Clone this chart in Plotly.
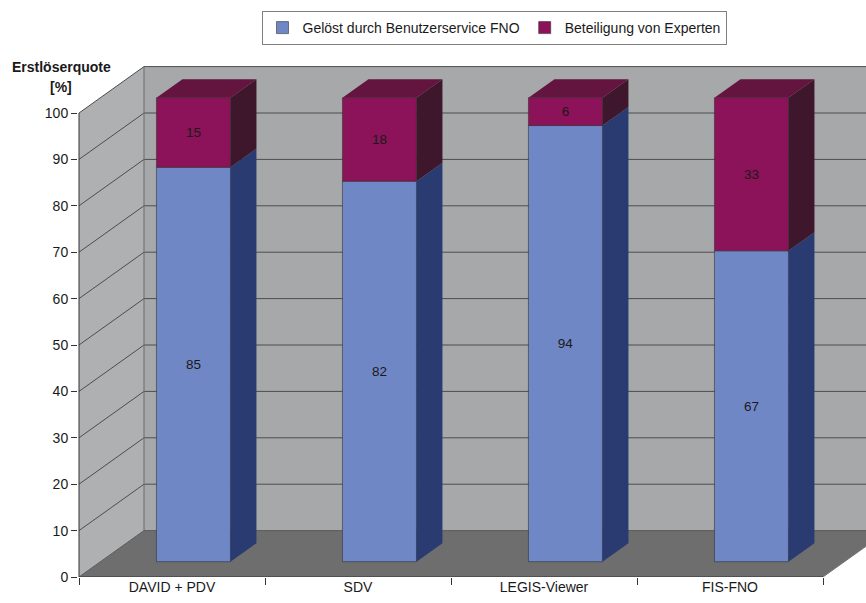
import plotly.graph_objects as go

# ---------------- data ----------------
categories = ["DAVID + PDV", "SDV", "LEGIS-Viewer", "FIS-FNO"]
solved = [85, 82, 94, 67]
experts = [15, 18, 6, 33]
series_names = ["Gelöst durch Benutzerservice FNO", "Beteiligung von Experten"]
y_ticks = list(range(0, 101, 10))
y_title_lines = ["Erstlöserquote", "[%]"]

# ---------------- geometry / style ----------------
W, H = 866, 603
L, R, T, B = 78, 0, 55, 26
CAT_PX = 186.0
PX_PER_UNIT = 4.64
plot_w = W - L - R
plot_h = H - T - B
x_lo = -0.5 - 1.0 / CAT_PX
x_hi = x_lo + plot_w / CAT_PX
y_lo = 0.0
y_hi = plot_h / PX_PER_UNIT

DX = 65.0 / CAT_PX   # depth vector (x units)
DY = 10.0            # depth vector (value units)
D0, D1 = 0.33, 0.73  # bar depth span
BAR_W = 74.0 / CAT_PX
N = len(categories)
X_FRONT_L = -0.5
X_FRONT_R = N - 0.5
WALL_TOP = max(y_ticks)

FONT = "Liberation Sans, Arial, sans-serif"
front_colors = ["#7087C6", "#8C1259"]
side_colors = ["#2A3B72", "#3E172C"]
top_colors = ["#5B74B6", "#63143F"]
GRID = "#4d4d4d"

fig = go.Figure()

# ---------------- bars (front faces) ----------------
segments = [solved, experts]
bases = [[0] * N, solved]
for k in range(2):
    fig.add_trace(go.Bar(
        x=categories,
        y=segments[k],
        base=[b + D0 * DY for b in bases[k]],
        width=BAR_W,
        offset=D0 * DX - BAR_W / 2,
        name=series_names[k],
        marker=dict(color=front_colors[k], line=dict(width=0.6, color="#333333")),
        text=[str(v) for v in segments[k]],
        textposition="inside",
        insidetextanchor="middle",
        constraintext="none",
        textangle=0,
        insidetextfont=dict(family=FONT, size=13.5, color="#1a1a1a"),
        hoverinfo="skip",
    ))

# ---------------- 3D side / top faces from data ----------------
depth_x = (D1 - D0) * DX
depth_y = (D1 - D0) * DY
for k in range(2):
    for i in range(N):
        b = bases[k][i] + D0 * DY
        t = b + segments[k][i]
        xr = i + D0 * DX + BAR_W / 2
        xl = i + D0 * DX - BAR_W / 2
        fig.add_trace(go.Scatter(
            x=[xr, xr + depth_x, xr + depth_x, xr, xr],
            y=[b, b + depth_y, t + depth_y, t, b],
            xaxis="x2", yaxis="y",
            mode="lines", fill="toself", fillcolor=side_colors[k],
            line=dict(width=0, color=side_colors[k]),
            showlegend=False, hoverinfo="skip",
        ))
        if k == 1:
            fig.add_trace(go.Scatter(
                x=[xl, xr, xr + depth_x, xl + depth_x, xl],
                y=[t, t, t + depth_y, t + depth_y, t],
                xaxis="x2", yaxis="y",
                mode="lines", fill="toself", fillcolor=top_colors[k],
                line=dict(width=0, color=top_colors[k]),
                showlegend=False, hoverinfo="skip",
            ))

# ---------------- walls, floor, gridlines ----------------
def path(pts):
    s = "M {},{}".format(*pts[0])
    for p in pts[1:]:
        s += " L {},{}".format(*p)
    return s + " Z"

shapes = []
bx = X_FRONT_L + DX
# left wall
shapes.append(dict(type="path", xref="x2", yref="y", layer="below",
                   path=path([(X_FRONT_L, 0), (bx, DY), (bx, WALL_TOP + DY), (X_FRONT_L, WALL_TOP)]),
                   fillcolor="#AEB0B2", line=dict(width=0)))
# back wall
shapes.append(dict(type="rect", xref="x2", yref="y", layer="below",
                   x0=bx, x1=x_hi + 1, y0=DY, y1=WALL_TOP + DY,
                   fillcolor="#A6A8AA", line=dict(width=0)))
# floor
shapes.append(dict(type="path", xref="x2", yref="y", layer="below",
                   path=path([(X_FRONT_L, 0), (X_FRONT_R, 0), (X_FRONT_R + DX, DY), (bx, DY)]),
                   fillcolor="#6E6E6E", line=dict(width=0)))

def line(xa, ya, xb, yb, color=GRID, width=1):
    return dict(type="line", xref="x2", yref="y", layer="below",
                x0=xa, y0=ya, x1=xb, y1=yb, line=dict(color=color, width=width))

for v in y_ticks[1:]:
    shapes.append(line(X_FRONT_L, v, bx, v + DY))
    shapes.append(line(bx, v + DY, x_hi + 1, v + DY))
shapes.append(line(bx, DY, bx, WALL_TOP + DY, color="#6a6a6a"))
shapes.append(line(bx, DY, x_hi + 1, DY, color="#5a5a5a"))
shapes.append(line(X_FRONT_L, 0, bx, DY, color="#5a5a5a"))
# axis lines
shapes.append(line(X_FRONT_L, 0, X_FRONT_L, WALL_TOP, color="#333333", width=1))
shapes.append(line(X_FRONT_L, 0, X_FRONT_R, 0, color="#333333", width=1))
shapes.append(line(X_FRONT_R, 0, X_FRONT_R + DX, DY, color="#777777", width=1))

# ---------------- layout ----------------
def py(px):  # pixel y -> paper
    return (H - B - px) / plot_h

def pxx(px):  # pixel x -> paper
    return (px - L) / plot_w

annotations = [
    dict(text="<b>%s</b>" % y_title_lines[0], xref="paper", yref="paper",
         x=pxx(61), y=py(67), showarrow=False, xanchor="center", yanchor="middle",
         font=dict(family=FONT, size=14, color="#1a1a1a")),
    dict(text="<b>%s</b>" % y_title_lines[1], xref="paper", yref="paper",
         x=pxx(61), y=py(87), showarrow=False, xanchor="center", yanchor="middle",
         font=dict(family=FONT, size=14, color="#1a1a1a")),
]

fig.update_layout(
    width=W, height=H,
    margin=dict(l=L, r=R, t=T, b=B, autoexpand=False),
    paper_bgcolor="white", plot_bgcolor="white",
    barmode="overlay",
    font=dict(family=FONT, size=14, color="#1a1a1a"),
    showlegend=True,
    legend=dict(orientation="h", x=pxx(494), xanchor="center", y=py(28), yanchor="middle",
                bordercolor="#808080", borderwidth=1, bgcolor="white",
                font=dict(family=FONT, size=14, color="#1a1a1a"),
                traceorder="normal", itemwidth=30, tracegroupgap=0),
    xaxis=dict(type="category", range=[x_lo, x_hi], tickson="boundaries",
               ticks="outside", ticklen=7, tickcolor="#333333",
               showgrid=False, zeroline=False, showline=False,
               tickfont=dict(family=FONT, size=14, color="#1a1a1a"),
               categoryorder="array", categoryarray=categories, fixedrange=True),
    xaxis2=dict(overlaying="x", range=[x_lo, x_hi], visible=False, fixedrange=True),
    yaxis=dict(range=[y_lo, y_hi], tickvals=y_ticks, ticks="outside", ticklen=6,
               tickcolor="#333333", showgrid=False, zeroline=False, showline=False,
               tickfont=dict(family=FONT, size=14, color="#1a1a1a"), fixedrange=True),
    shapes=shapes,
    annotations=annotations,
)

fig.write_html("out.html")
